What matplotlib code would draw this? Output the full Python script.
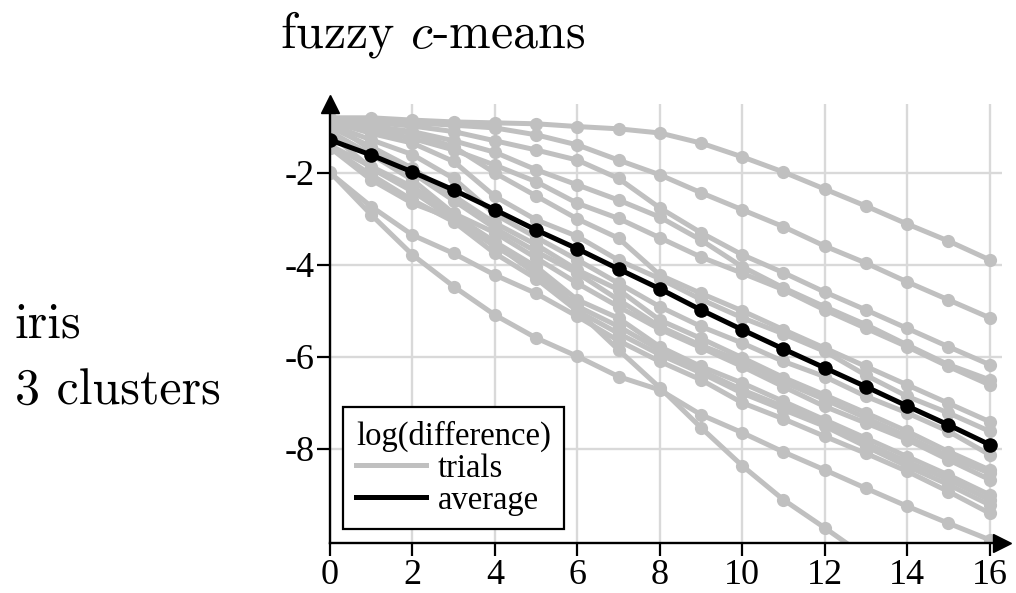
import matplotlib
matplotlib.use('Agg')
import matplotlib.pyplot as plt
from matplotlib.lines import Line2D

# ---------------- data ----------------
iterations = list(range(17))

trial_01 = [-0.80, -0.80, -0.85, -0.89, -0.91, -0.93, -0.99, -1.04, -1.13, -1.35, -1.65, -1.98, -2.35, -2.72, -3.11, -3.48, -3.89]
trial_02 = [-0.85, -0.89, -0.91, -0.96, -1.02, -1.17, -1.39, -1.72, -2.04, -2.43, -2.80, -3.17, -3.59, -3.96, -4.37, -4.76, -5.15]
trial_03 = [-0.82, -0.90, -0.98, -1.10, -1.30, -1.50, -1.72, -2.12, -2.76, -3.30, -3.78, -4.17, -4.59, -4.98, -5.38, -5.78, -6.17]
trial_04 = [-0.90, -0.98, -1.10, -1.30, -1.55, -1.93, -2.26, -2.59, -2.96, -3.46, -4.04, -4.50, -4.91, -5.30, -5.74, -6.17, -6.50]
trial_05 = [-0.95, -1.05, -1.25, -1.50, -1.83, -2.19, -2.66, -2.99, -3.41, -3.83, -4.18, -4.54, -4.98, -5.38, -5.78, -6.21, -6.61]
trial_06 = [-0.92, -1.00, -1.14, -1.43, -2.00, -2.50, -3.00, -3.42, -4.22, -4.62, -5.00, -5.41, -5.81, -6.21, -6.61, -7.01, -7.41]
trial_07 = [-0.88, -1.14, -1.35, -1.75, -2.51, -3.02, -3.38, -3.90, -4.30, -4.75, -5.15, -5.50, -5.88, -6.40, -6.86, -7.22, -7.62]
trial_08 = [-0.95, -1.28, -1.60, -2.12, -2.90, -3.40, -3.89, -4.40, -4.91, -5.34, -5.70, -6.10, -6.43, -6.86, -7.22, -7.62, -8.13]
trial_09 = [-1.00, -1.43, -1.90, -2.50, -3.09, -3.56, -4.11, -4.54, -5.20, -5.60, -6.02, -6.45, -6.83, -7.22, -7.62, -8.06, -8.46]
trial_10 = [-0.90, -1.50, -2.00, -2.60, -3.20, -3.71, -4.18, -4.76, -5.34, -5.75, -6.10, -6.55, -6.93, -7.33, -7.73, -8.17, -8.53]
trial_11 = [-1.10, -1.60, -2.15, -2.88, -3.30, -3.85, -4.40, -4.91, -5.40, -5.80, -6.21, -6.65, -7.08, -7.44, -7.80, -8.24, -8.67]
trial_12 = [-1.40, -1.86, -2.30, -2.91, -3.50, -4.04, -4.76, -5.16, -5.78, -6.21, -6.57, -6.97, -7.37, -7.77, -8.17, -8.57, -9.00]
trial_13 = [-1.15, -1.90, -2.40, -3.00, -3.60, -4.11, -4.90, -5.34, -5.85, -6.30, -6.72, -7.08, -7.44, -7.88, -8.28, -8.67, -9.11]
trial_14 = [-1.45, -2.04, -2.59, -3.06, -3.75, -4.30, -5.00, -5.49, -5.95, -6.35, -6.79, -7.15, -7.51, -7.95, -8.38, -8.78, -9.22]
trial_15 = [-2.00, -2.73, -3.35, -3.75, -4.22, -4.62, -5.12, -5.65, -6.10, -6.50, -7.00, -7.35, -7.73, -8.10, -8.49, -8.93, -9.40]
trial_16 = [-1.45, -2.15, -2.66, -3.00, -3.55, -4.20, -5.00, -5.85, -6.67, -7.54, -8.37, -9.11, -9.72, -10.35, -11.00, -11.60, -12.20]
trial_17 = [-1.98, -2.91, -3.78, -4.47, -5.09, -5.59, -5.99, -6.43, -6.72, -7.26, -7.65, -8.07, -8.46, -8.86, -9.25, -9.62, -9.98]

average = [-1.28, -1.61, -1.98, -2.37, -2.80, -3.24, -3.65, -4.09, -4.52, -4.98, -5.41, -5.83, -6.24, -6.65, -7.07, -7.48, -7.91]

xticks = [0, 2, 4, 6, 8, 10, 12, 14, 16]
xtick_labels = ["0", "2", "4", "6", "8", "10", "12", "14", "16"]
yticks = [-2, -4, -6, -8]
ytick_labels = ["-2", "-4", "-6", "-8"]

legend_title = "log(difference)"
legend_labels = ["trials", "average"]
title_text = "fuzzy $c$-means"
side_text_1 = "iris"
side_text_2 = "3 clusters"

trials = [trial_01, trial_02, trial_03, trial_04, trial_05, trial_06, trial_07,
          trial_08, trial_09, trial_10, trial_11, trial_12, trial_13, trial_14,
          trial_15, trial_16, trial_17]

# ---------------- style ----------------
plt.rcParams['mathtext.fontset'] = 'cm'
plt.rcParams['font.family'] = ['Liberation Serif', 'DejaVu Serif']

GRAY = '#c0c0c0'
GRID = '#d9d9d9'

fig = plt.figure(figsize=(10.16, 5.93), dpi=100)
ax = fig.add_axes([0.3248, 0.0843, 0.6614, 0.7403])
ax.set_xlim(0, 16.3)
ax.set_ylim(-10.05, -0.5)

for s in ['top', 'right']:
    ax.spines[s].set_visible(False)
for s in ['left', 'bottom']:
    ax.spines[s].set_linewidth(1.7)
    ax.spines[s].set_zorder(5)

ax.set_xticks(xticks)
ax.set_xticklabels(xtick_labels)
ax.set_yticks(yticks)
ax.set_yticklabels(ytick_labels)
ax.tick_params(labelsize=26, length=9.5, width=1.6, color='k')
ax.tick_params(axis='y', pad=1.5)
ax.tick_params(axis='x', pad=2)

ax.grid(True, color=GRID, lw=1.7)
ax.set_axisbelow(True)

for tr in trials:
    ax.plot(iterations, tr, color=GRAY, lw=3.6, marker='o', ms=9.5,
            markeredgewidth=0, zorder=2)
ax.plot(iterations, average, color='k', lw=3.6, marker='o', ms=10.5,
        markeredgewidth=0, zorder=3)

# axis arrows
ax.plot([0], [1], marker='^', color='k', ms=12.5, transform=ax.transAxes,
        clip_on=False, zorder=6)
ax.plot([1], [0], marker='>', color='k', ms=12.5, transform=ax.transAxes,
        clip_on=False, zorder=6)

handles = [Line2D([0], [0], color=GRAY, lw=3.6),
           Line2D([0], [0], color='k', lw=3.6)]
leg = ax.legend(handles, legend_labels, title=legend_title,
                loc='lower left', bbox_to_anchor=(0.019, 0.032),
                borderaxespad=0, fontsize=23.5, title_fontsize=23.5,
                frameon=True, fancybox=False, edgecolor='k', framealpha=1,
                labelspacing=0.05, handlelength=2.15, handletextpad=0.37,
                borderpad=0.4, alignment='left')
leg.get_frame().set_linewidth(1.6)
leg.set_zorder(10)

fig.text(280 / 1016, 1 - 47 / 593, title_text, fontfamily='cmr10',
         fontsize=36, va='baseline', ha='left')
fig.text(15 / 1016, 1 - 338 / 593, side_text_1, fontfamily='cmr10',
         fontsize=36, va='baseline', ha='left')
fig.text(15 / 1016, 1 - 405 / 593, side_text_2, fontfamily='cmr10',
         fontsize=36, va='baseline', ha='left')

fig.savefig('out.png', dpi=100)
